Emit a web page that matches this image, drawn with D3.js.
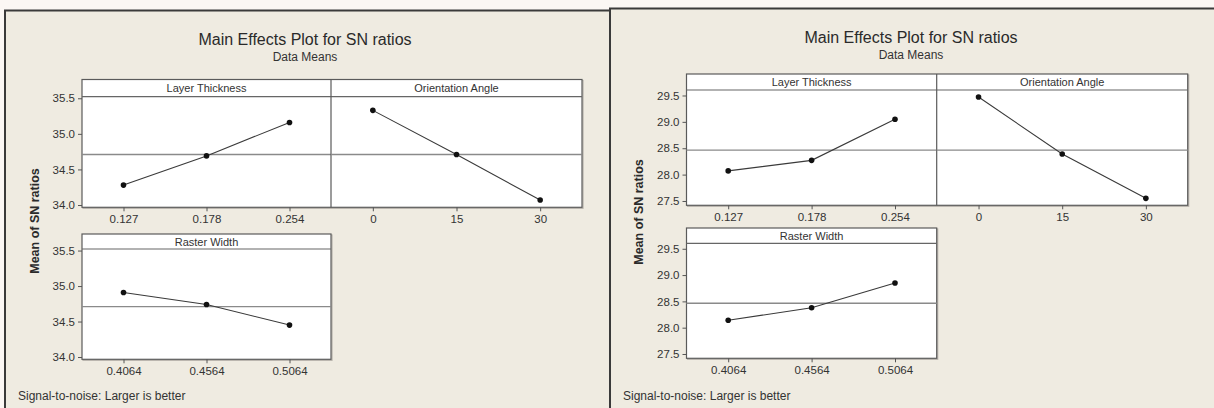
<!DOCTYPE html>
<html><head><meta charset="utf-8">
<script src="https://cdn.jsdelivr.net/npm/d3@7"></script>
<style>
html,body{margin:0;padding:0;background:#fff;}
text{font-family:"Liberation Sans",Arial,sans-serif;fill:#2a2a2a;}
</style></head>
<body><svg id="c" width="1214" height="408"></svg>
<script>
// ---- data ----
const factorNames = ["Layer Thickness", "Orientation Angle", "Raster Width"];
const levelsLayer = ["0.127", "0.178", "0.254"];
const levelsAngle = ["0", "15", "30"];
const levelsRaster = ["0.4064", "0.4564", "0.5064"];
// chart 1 (left) mean SN ratios
const snLayer1 = [34.28, 34.69, 35.16];
const snAngle1 = [35.33, 34.71, 34.07];
const snRaster1 = [34.91, 34.74, 34.45];
const yTicks1 = [34.0, 34.5, 35.0, 35.5];
// chart 2 (right) mean SN ratios
const snLayer2 = [28.07, 28.27, 29.05];
const snAngle2 = [29.47, 28.39, 27.55];
const snRaster2 = [28.14, 28.38, 28.85];
const yTicks2 = [27.5, 28.0, 28.5, 29.0, 29.5];
const titleText = "Main Effects Plot for SN ratios";
const subtitleText = "Data Means";
const yLabelText = "Mean of SN ratios";
const footerText = "Signal-to-noise: Larger is better";

const svg = d3.select("#c");
// faint background behind panels
svg.append("rect").attr("width",1214).attr("height",408).attr("fill","#fbf7f4");

const charts = [
  {frame:[5,10.5,605], titleX:305, titleY:45, subY:61,
   L:82, M:331, R:582,
   rows:[{top:79.5, strip:96.7, bottom:207.3, lab:224.5},{top:234, strip:249, bottom:359.3, lab:378}],
   domain:[33.968,35.522], ticks:yTicks1, ylabX:35, ylabY:221, footX:18, footY:400,
   data:[snLayer1, snAngle1, snRaster1]},
  {frame:[610,8.5,610], titleX:911, titleY:42.5, subY:59,
   L:686.5, M:936.7, R:1187.7,
   rows:[{top:74, strip:90, bottom:205.3, lab:223},{top:228, strip:243.3, bottom:358.3, lab:376}],
   domain:[27.418,29.604], ticks:yTicks2, ylabX:639, ylabY:212, footX:623, footY:400,
   data:[snLayer2, snAngle2, snRaster2]}
];
const levelSets = [levelsLayer, levelsAngle, levelsRaster];

charts.forEach(ch => {
  const g = svg.append("g");
  const [fx, fy, fw] = ch.frame;
  g.append("rect").attr("x",fx).attr("y",fy).attr("width",fw).attr("height",420)
    .attr("fill","#efebe1").attr("stroke","#3a3a3a").attr("stroke-width",2);
  g.append("text").attr("x",ch.titleX).attr("y",ch.titleY).attr("text-anchor","middle")
    .style("font-size","16px").text(titleText);
  g.append("text").attr("x",ch.titleX).attr("y",ch.subY).attr("text-anchor","middle")
    .style("font-size","12px").style("fill","#333").text(subtitleText);
  g.append("text").attr("transform",`translate(${ch.ylabX},${ch.ylabY}) rotate(-90)`)
    .attr("text-anchor","middle").attr("dominant-baseline","central")
    .style("font-size","12.5px").style("font-weight","bold").text(yLabelText);
  g.append("text").attr("x",ch.footX).attr("y",ch.footY)
    .style("font-size","12px").style("fill","#333").text(footerText);

  const grand = d3.mean(ch.data[0]);
  const panels = [
    {row:0, x0:ch.L, x1:ch.M, f:0},
    {row:0, x0:ch.M, x1:ch.R, f:1},
    {row:1, x0:ch.L, x1:ch.M, f:2}
  ];
  // plot frames per row
  [[0, ch.L, ch.R],[1, ch.L, ch.M]].forEach(([ri, a, b]) => {
    const r = ch.rows[ri];
    g.append("rect").attr("x",a+1).attr("y",r.top+1).attr("width",b-a).attr("height",r.bottom-r.top)
      .attr("fill","none").attr("stroke","#b5b1aa").attr("stroke-width",1.2);
    g.append("rect").attr("x",a).attr("y",r.top).attr("width",b-a).attr("height",r.bottom-r.top)
      .attr("fill","#fff").attr("stroke","#5a5a5a").attr("stroke-width",1.2);
    const y = d3.scaleLinear().domain(ch.domain).range([r.bottom, r.strip]);
    const ax = g.append("g").attr("transform",`translate(${a},0)`)
      .call(d3.axisLeft(y).tickValues(ch.ticks).tickFormat(d3.format(".1f")).tickSize(4).tickPadding(3));
    ax.select(".domain").remove();
    ax.selectAll("line").attr("stroke","#555");
    ax.selectAll("text").style("font-size","11.5px").style("fill","#333")
      .style("font-family","'Liberation Sans',Arial,sans-serif");
    g.append("line").attr("x1",a).attr("x2",b).attr("y1",r.strip).attr("y2",r.strip)
      .attr("stroke","#666").attr("stroke-width",1.2);
  });

  panels.forEach(p => {
    const r = ch.rows[p.row];
    const levels = levelSets[p.f];
    const vals = ch.data[p.f];
    const x = d3.scalePoint().domain(levels).range([p.x0, p.x1]).padding(0.5);
    const y = d3.scaleLinear().domain(ch.domain).range([r.bottom, r.strip]);
    // divider
    if (p.f === 1) g.append("line").attr("x1",p.x0).attr("x2",p.x0).attr("y1",r.top).attr("y2",r.bottom)
      .attr("stroke","#5a5a5a").attr("stroke-width",1.2);
    g.append("text").attr("x",(p.x0+p.x1)/2).attr("y",(r.top+r.strip)/2).attr("text-anchor","middle")
      .attr("dominant-baseline","central").style("font-size","11px").style("fill","#333").text(factorNames[p.f]);
    // grand mean reference line
    g.append("line").attr("x1",p.x0).attr("x2",p.x1).attr("y1",y(grand)).attr("y2",y(grand))
      .attr("stroke","#8a8a8a").attr("stroke-width",1.4);
    const xa = g.append("g").attr("transform",`translate(0,${r.bottom})`)
      .call(d3.axisBottom(x).tickSize(4).tickPadding(4));
    xa.select(".domain").remove();
    xa.selectAll("line").attr("stroke","#555");
    xa.selectAll("text").style("font-size","11.5px").style("fill","#333")
      .style("font-family","'Liberation Sans',Arial,sans-serif");
    const pts = levels.map((l,i) => [l, vals[i]]);
    g.append("path").datum(pts)
      .attr("d", d3.line().x(d => x(d[0])).y(d => y(d[1])))
      .attr("fill","none").attr("stroke","#3a3a3a").attr("stroke-width",1.1);
    g.selectAll(null).data(pts).enter().append("circle")
      .attr("cx", d => x(d[0])).attr("cy", d => y(d[1])).attr("r",2.8).attr("fill","#111");
  });
});
</script></body></html>
